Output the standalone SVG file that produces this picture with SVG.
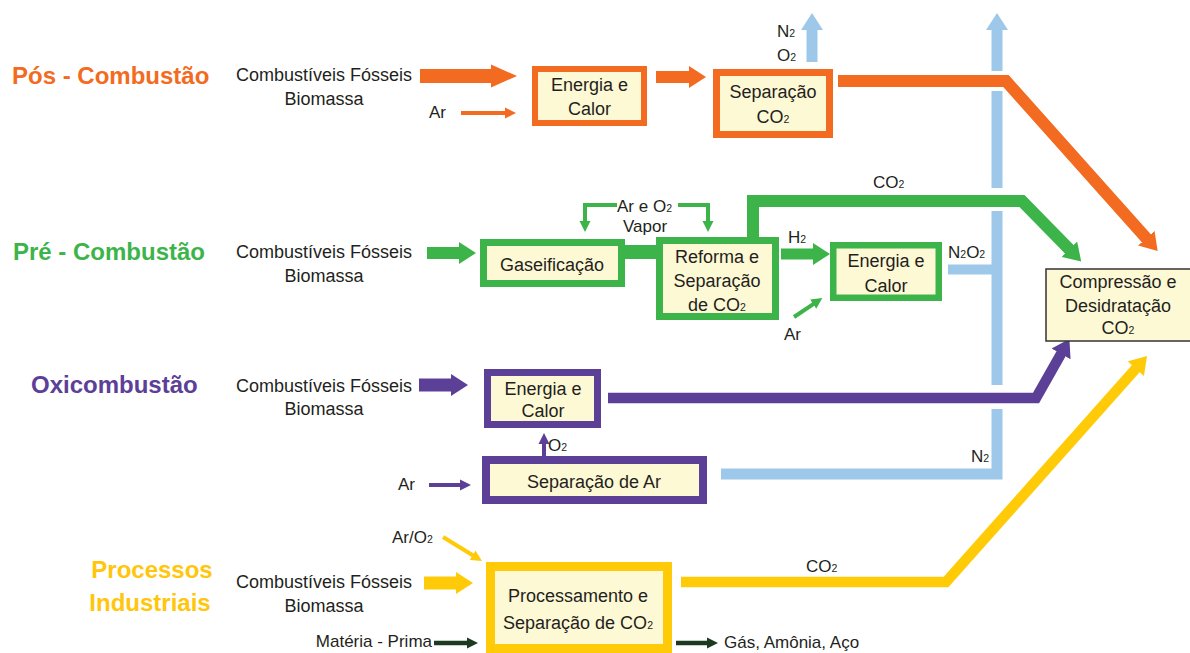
<svg xmlns="http://www.w3.org/2000/svg" width="1190" height="653" viewBox="0 0 1190 653">
<style>
text{font-family:"Liberation Sans",Arial,sans-serif;fill:#231F20;}
.t{font-size:18px;text-anchor:middle}
.s{font-size:17px}
.b{font-size:18px;text-anchor:middle}
.h{font-size:24px;font-weight:bold}
.sub{font-size:10.5px}
.box{fill:#FEF9D5}
.c{fill:none;stroke-linejoin:miter;stroke-linecap:butt}
.so{stroke:#F26B21}.sg{stroke:#3DB44A}.sp{stroke:#5C4097}.sy{stroke:#FFCB08}.sb{stroke:#9DC8EA}.sd{stroke:#1B3A1F}
.fo{fill:#F26B21}.fg{fill:#3DB44A}.fp{fill:#5C4097}.fy{fill:#FFCB08}.fb{fill:#9DC8EA}.fd{fill:#1B3A1F}
text.fo{fill:#F26B21}text.fg{fill:#3DB44A}text.fp{fill:#5C4097}text.fy{fill:#FFC60B}
</style>
<defs>
<marker id="o-big" markerUnits="userSpaceOnUse" markerWidth="26" markerHeight="24" viewBox="-1 -12 26 24" refX="0" refY="0" orient="auto"><path class="fo" d="M-1,-11.5 L25,0 L-1,11.5 z"/></marker>
<marker id="o-fat" markerUnits="userSpaceOnUse" markerWidth="17" markerHeight="22" viewBox="-1 -11 17 22" refX="0" refY="0" orient="auto"><path class="fo" d="M-1,-11 L16,0 L-1,11 z"/></marker>
<marker id="o-thin" markerUnits="userSpaceOnUse" markerWidth="11" markerHeight="12" viewBox="-1 -6 11 12" refX="0" refY="0" orient="auto"><path class="fo" d="M-1,-5.5 L10,0 L-1,5.5 z"/></marker>
<marker id="g-fat" markerUnits="userSpaceOnUse" markerWidth="17" markerHeight="22" viewBox="-1 -11 17 22" refX="0" refY="0" orient="auto"><path class="fg" d="M-1,-11 L16,0 L-1,11 z"/></marker>
<marker id="g-thin" markerUnits="userSpaceOnUse" markerWidth="11" markerHeight="12" viewBox="-1 -6 11 12" refX="0" refY="0" orient="auto"><path class="fg" d="M-1,-5.5 L10,0 L-1,5.5 z"/></marker>
<marker id="p-fat" markerUnits="userSpaceOnUse" markerWidth="17" markerHeight="22" viewBox="-1 -11 17 22" refX="0" refY="0" orient="auto"><path class="fp" d="M-1,-11 L16,0 L-1,11 z"/></marker>
<marker id="p-thin" markerUnits="userSpaceOnUse" markerWidth="11" markerHeight="12" viewBox="-1 -6 11 12" refX="0" refY="0" orient="auto"><path class="fp" d="M-1,-5.5 L10,0 L-1,5.5 z"/></marker>
<marker id="y-fat" markerUnits="userSpaceOnUse" markerWidth="17" markerHeight="22" viewBox="-1 -11 17 22" refX="0" refY="0" orient="auto"><path class="fy" d="M-1,-11 L16,0 L-1,11 z"/></marker>
<marker id="y-thin" markerUnits="userSpaceOnUse" markerWidth="11" markerHeight="12" viewBox="-1 -6 11 12" refX="0" refY="0" orient="auto"><path class="fy" d="M-1,-5.5 L10,0 L-1,5.5 z"/></marker>
<marker id="b-fat" markerUnits="userSpaceOnUse" markerWidth="17" markerHeight="22" viewBox="-1 -11 17 22" refX="0" refY="0" orient="auto"><path class="fb" d="M-1,-11 L16,0 L-1,11 z"/></marker>
<marker id="d-thin" markerUnits="userSpaceOnUse" markerWidth="11" markerHeight="12" viewBox="-1 -6 11 12" refX="0" refY="0" orient="auto"><path class="fd" d="M-1,-5.5 L10,0 L-1,5.5 z"/></marker>
</defs>

<g id="connectors">
  <!-- orange -->
  <path class="c so" stroke-width="14" d="M420,76 H492" marker-end="url(#o-big)"/>
  <path class="c so" stroke-width="4" d="M461,113 H506" marker-end="url(#o-thin)"/>
  <path class="c so" stroke-width="12" d="M656,77 H690" marker-end="url(#o-fat)"/>
  <path class="c so" stroke-width="12" d="M838,81 H1006 L1147,239" marker-end="url(#o-fat)"/>
  <!-- blue -->
  <path class="c sb" stroke-width="11" d="M812,62 V29" marker-end="url(#b-fat)"/>
  <path class="c sb" stroke-width="11" d="M997,71 V29" marker-end="url(#b-fat)"/>
  <path class="c sb" stroke-width="11" d="M997,188 V91"/>
  <path class="c sb" stroke-width="11" d="M997,385 V211"/>
  <path class="c sb" stroke-width="11" d="M721,474 H997 V409"/>
  <path class="c sb" stroke-width="10" d="M948,269.5 H997"/>
  <!-- green -->
  <path class="c sg" stroke-width="12" d="M427,253 H460" marker-end="url(#g-fat)"/>
  <path class="c sg" stroke-width="14" d="M620,252 H660"/>
  <path class="c sg" stroke-width="4" d="M617,205 H585 V222" marker-end="url(#g-thin)"/>
  <path class="c sg" stroke-width="4" d="M678,205 H708 V222" marker-end="url(#g-thin)"/>
  <path class="c sg" stroke-width="12" d="M753,238 V201 H1022 L1070,250" marker-end="url(#g-fat)"/>
  <path class="c sg" stroke-width="11" d="M781,254 H814" marker-end="url(#g-fat)"/>
  <path class="c sg" stroke-width="4" d="M794,317 L814,303.6" marker-end="url(#g-thin)"/>
  <!-- purple -->
  <path class="c sp" stroke-width="13" d="M419,385 H452" marker-end="url(#p-fat)"/>
  <path class="c sp" stroke-width="4" d="M429,485 H461" marker-end="url(#p-thin)"/>
  <path class="c sp" stroke-width="4" d="M544,456 V443" marker-end="url(#p-thin)"/>
  <path class="c sp" stroke-width="10.5" d="M608,398 H1036 L1061.5,353" marker-end="url(#p-fat)"/>
  <!-- yellow -->
  <path class="c sy" stroke-width="13" d="M424,583 H457" marker-end="url(#y-fat)"/>
  <path class="c sy" stroke-width="4" d="M443,537 L473.5,555.8" marker-end="url(#y-thin)"/>
  <path class="c sy" stroke-width="10.5" d="M681,582 H946 L1136.4,368" marker-end="url(#y-fat)"/>
  <!-- dark green -->
  <path class="c sd" stroke-width="4.5" d="M434,643 H468" marker-end="url(#d-thin)"/>
  <path class="c sd" stroke-width="4.5" d="M676,643 H708" marker-end="url(#d-thin)"/>
</g>

<g id="labels">
  <text class="s" x="429" y="118">Ar</text>
  <text class="s" x="777" y="37">N<tspan class="sub">2</tspan></text>
  <text class="s" x="777" y="61">O<tspan class="sub">2</tspan></text>
  <text class="s" x="873" y="188">CO<tspan class="sub">2</tspan></text>
  <text class="s" x="617" y="212">Ar e O<tspan class="sub">2</tspan></text>
  <text class="s" x="645" y="232" text-anchor="middle">Vapor</text>
  <text class="s" x="788" y="243">H<tspan class="sub">2</tspan></text>
  <text class="s" x="948" y="258">N<tspan class="sub">2</tspan>O<tspan class="sub">2</tspan></text>
  <text class="s" x="784" y="340">Ar</text>
  <text class="s" x="398" y="490">Ar</text>
  <text class="s" x="548" y="451">O<tspan class="sub">2</tspan></text>
  <text class="s" x="971" y="462">N<tspan class="sub">2</tspan></text>
  <text class="s" x="392" y="543">Ar/O<tspan class="sub">2</tspan></text>
  <text class="s" x="806" y="572">CO<tspan class="sub">2</tspan></text>
  <text class="s" x="432" y="647" text-anchor="end" font-size="18">Matéria - Prima</text>
  <text class="s" x="724" y="648" font-size="18">Gás, Amônia, Aço</text>
</g>

<g id="title-pos"><text class="h fo" x="12" y="84">Pós - Combustão</text></g>
<g id="title-pre"><text class="h fg" x="13" y="260">Pré - Combustão</text></g>
<g id="title-oxi"><text class="h fp" x="31" y="393">Oxicombustão</text></g>
<g id="title-ind"><text class="h fy" x="152" y="578" text-anchor="middle">Processos</text><text class="h fy" x="150" y="611" text-anchor="middle">Industriais</text></g>

<g id="fuel-pos"><text class="t" x="324" y="81">Combustíveis Fósseis</text><text class="t" x="324" y="105">Biomassa</text></g>
<g id="fuel-pre"><text class="t" x="324" y="258">Combustíveis Fósseis</text><text class="t" x="324" y="282">Biomassa</text></g>
<g id="fuel-oxi"><text class="t" x="324" y="392">Combustíveis Fósseis</text><text class="t" x="324" y="415">Biomassa</text></g>
<g id="fuel-ind"><text class="t" x="324" y="588">Combustíveis Fósseis</text><text class="t" x="324" y="612">Biomassa</text></g>

<g id="pos-energia"><rect class="box so" x="535" y="69" width="109" height="54" stroke-width="6"/><text class="b" x="589.5" y="91">Energia e</text><text class="b" x="589.5" y="115">Calor</text></g>
<g id="pos-separacao"><rect class="box so" x="716.5" y="72.5" width="113" height="62" stroke-width="7"/><text class="b" x="773" y="98">Separação</text><text class="b" x="773" y="123">CO<tspan class="sub">2</tspan></text></g>

<g id="pre-gaseificacao"><rect class="box sg" x="483.5" y="242.5" width="138" height="41" stroke-width="7"/><text class="b" x="552" y="271">Gaseificação</text></g>
<g id="pre-reforma"><rect class="box sg" x="659.5" y="240.5" width="116" height="76" stroke-width="7"/><text class="b" x="717" y="263">Reforma e</text><text class="b" x="717" y="287">Separação</text><text class="b" x="717" y="311">de CO<tspan class="sub">2</tspan></text></g>
<g id="pre-energia"><rect class="box sg" x="833.25" y="245.25" width="105.5" height="52.5" stroke-width="6.5"/><text class="b" x="886" y="267">Energia e</text><text class="b" x="886" y="292">Calor</text></g>

<g id="oxi-energia"><rect class="box sp" x="487.5" y="372.5" width="110" height="52" stroke-width="7"/><text class="b" x="543" y="395">Energia e</text><text class="b" x="543" y="417">Calor</text></g>
<g id="oxi-separacao-ar"><rect class="box sp" x="486" y="460" width="217" height="40" stroke-width="8"/><text class="b" x="594" y="488" font-size="17.5">Separação de Ar</text></g>

<g id="ind-processamento"><rect class="box sy" x="490.5" y="566.5" width="177" height="82" stroke-width="9"/><text class="b" x="578" y="602">Processamento e</text><text class="b" x="578" y="629">Separação de CO<tspan class="sub">2</tspan></text></g>

<g id="compressao"><rect class="box" x="1046" y="269" width="160" height="72" stroke="#333" stroke-width="1.5"/><text class="b" x="1118" y="288" font-size="17">Compressão e</text><text class="b" x="1118" y="312" font-size="17">Desidratação</text><text class="b" x="1118" y="334" font-size="17">CO<tspan class="sub">2</tspan></text></g>
</svg>
